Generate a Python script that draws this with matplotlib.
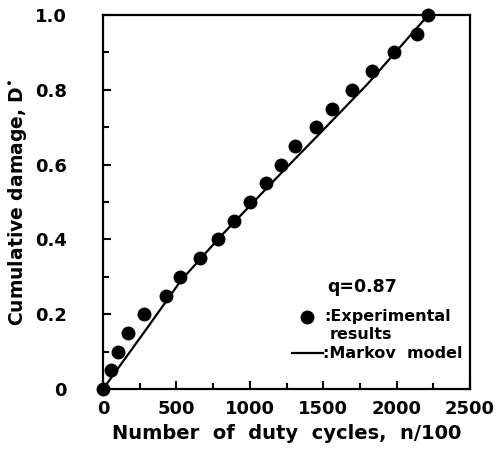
import matplotlib
matplotlib.use("Agg")
import matplotlib.pyplot as plt
from matplotlib.ticker import MultipleLocator

cycles_exp = [0, 52, 104, 172, 279, 429, 524, 661, 785, 892, 1001, 1110,
              1212, 1308, 1449, 1562, 1698, 1830, 1982, 2137, 2215]
damage_exp = [0.0, 0.05, 0.10, 0.15, 0.20, 0.25, 0.30, 0.35, 0.40, 0.45, 0.50, 0.55,
              0.60, 0.65, 0.70, 0.75, 0.80, 0.85, 0.90, 0.95, 1.0]

# Markov model curve
cycles_model = [0, 300, 530, 800, 1200, 1500, 1800, 2215]
damage_model = [0.0, 0.163, 0.29, 0.408, 0.572, 0.693, 0.815, 1.0]

x_ticks = [0, 500, 1000, 1500, 2000, 2500]
y_ticks = [0, 0.2, 0.4, 0.6, 0.8, 1.0]
y_tick_labels = ["0", "0.2", "0.4", "0.6", "0.8", "1.0"]

plt.rcParams["font.family"] = "DejaVu Sans"
plt.rcParams["font.weight"] = "bold"

figure = plt.figure(figsize=(4.98, 4.55), dpi=100)
axis = figure.add_axes([0.207, 0.145, 0.737, 0.822])

axis.plot(cycles_model, damage_model, color="black", linewidth=1.6, zorder=2)
axis.plot(cycles_exp, damage_exp, "o", color="black", markersize=9,
          clip_on=False, zorder=3)

axis.set_xlim(0, 2500)
axis.set_ylim(0, 1.0)
axis.set_xticks(x_ticks)
axis.set_yticks(y_ticks)
axis.set_yticklabels(y_tick_labels)
axis.xaxis.set_minor_locator(MultipleLocator(250))
axis.yaxis.set_minor_locator(MultipleLocator(0.1))
axis.tick_params(which="both", direction="in", top=False, right=False,
                 width=1.5, labelsize=13)
axis.tick_params(which="major", length=6)
axis.tick_params(which="minor", length=4)
axis.tick_params(axis="y", pad=26)
axis.tick_params(axis="x", pad=8)
for spine in axis.spines.values():
    spine.set_linewidth(1.6)

axis.set_xlabel("Number  of  duty  cycles,  n/100", fontsize=14,
                fontweight="bold", labelpad=4)
axis.set_ylabel("Cumulative damage, D$^{\u2022}$", fontsize=13.5,
                fontweight="bold", labelpad=4)

# legend drawn by hand, as in the original
axis.text(1526, 0.273, "q=0.87", fontsize=12.5, va="center", ha="left")
axis.plot([1390], [0.193], "o", color="black", markersize=9)
axis.text(1505, 0.193, ":Experimental", fontsize=11.5, va="center", ha="left")
axis.text(1546, 0.147, "results", fontsize=11.5, va="center", ha="left")
axis.plot([1287, 1499], [0.096, 0.096], color="black", linewidth=1.6)
axis.text(1499, 0.096, ":Markov  model", fontsize=11.5, va="center", ha="left")

figure.savefig("out.png", dpi=100)
